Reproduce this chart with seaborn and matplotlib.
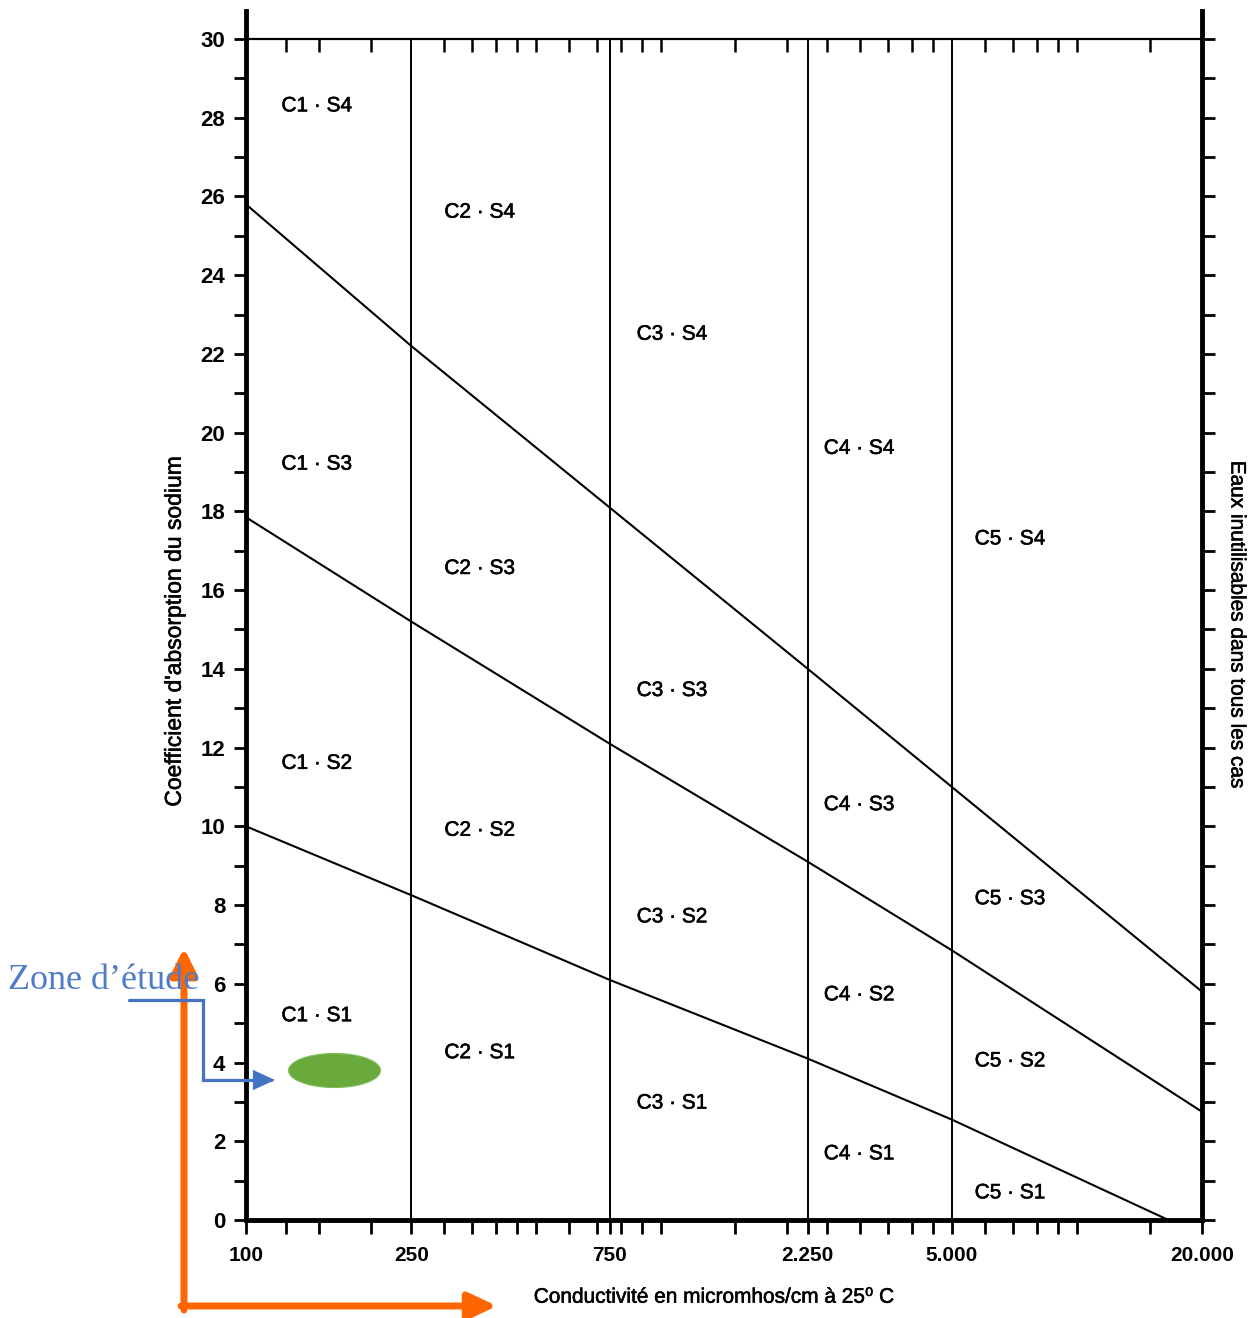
"""
diagramme de Richards (SAR / conductivite) avec la zone d'etude
"""
import numpy as np
import pandas as pd
import seaborn as sns
import matplotlib.pyplot as plt
import matplotlib.patheffects as pe
from matplotlib.path import Path
from matplotlib.patches import FancyArrowPatch
from matplotlib.ticker import NullFormatter

ec_pts = [100, 250, 750, 2250, 5000, 20000]
s3_s4 = [25.8, 22.2, 18.1, 14.0, 11.0, 5.8]
s2_s3 = [17.85, 15.2, 12.1, 9.1, 6.85, 2.75]
s1_s2_ec = [100, 250, 750, 2250, 5000, 16600]
s1_s2 = [10.0, 8.25, 6.1, 4.1, 2.55, 0.0]

# limites de classes de salinite
class_limits = [250, 750, 2250, 5000]

xtick_vals = [100, 250, 750, 2250, 5000, 20000]
xtick_labels = ['100', '250', '750', '2.250', '5.000', '20.000']
minor_ec = [125, 150, 200, 300, 350, 400, 450, 500, 600, 700, 800, 900, 1000,
            1500, 2000, 2500, 3000, 3500, 4000, 4500,
            6000, 7000, 8000, 9000, 10000, 15000]

# etiquettes des classes
col_ec = [148, 365, 1060, 2990, 6900]
col_names = ['C1', 'C2', 'C3', 'C4', 'C5']
row_names = ['S4', 'S3', 'S2', 'S1']
row_sar = {'S4': [28.3, 25.6, 22.5, 19.6, 17.3],
           'S3': [19.2, 16.55, 13.45, 10.55, 8.16],
           'S2': [11.6, 9.9, 7.7, 5.72, 4.04],
           'S1': [5.19, 4.25, 2.97, 1.68, 0.69]}

# zone d'etude
zone_ec = 163
zone_sar = 3.8

W, H = 1251, 1318

def fx(px):
    return px/W

def fy(py):
    return 1 - py/H

sns.set_theme(style='ticks')
plt.rcParams['font.family'] = ['Liberation Sans', 'DejaVu Sans']

fig = plt.figure(figsize=(W/100, H/100), dpi=100)
ymax = 30.7
ax = fig.add_axes([fx(246), fy(1220), fx(1202)-fx(246), fy(11.4)-fy(1220)])

df = pd.concat([
    pd.DataFrame({'ec': ec_pts, 'sar': s3_s4, 'limite': 'S3/S4'}),
    pd.DataFrame({'ec': ec_pts, 'sar': s2_s3, 'limite': 'S2/S3'}),
    pd.DataFrame({'ec': s1_s2_ec, 'sar': s1_s2, 'limite': 'S1/S2'}),
])
sns.lineplot(data=df, x='ec', y='sar', units='limite', estimator=None,
             sort=False, color='black', lw=1.5, ax=ax, legend=False)
ax.vlines(class_limits, 0, 30, color='black', lw=1.4)

ax.set_xscale('log')
ax.set_xlim(100, 20000)
ax.set_ylim(0, ymax)

heavy = [pe.withStroke(linewidth=0.4, foreground='black')]
for c, name in enumerate(col_names):
    for r in row_names:
        ax.text(col_ec[c], row_sar[r][c], name + ' \u00b7 ' + r, fontsize=15,
                ha='center', va='center', color='black', path_effects=heavy)

# marque de la zone d'etude (ellipse)
t = np.linspace(0, 2*np.pi, 80)
ell = Path(np.column_stack([2.7*np.cos(t), np.sin(t)]), closed=True)
ax.scatter([zone_ec], [zone_sar], marker=ell, s=4385, color='#6aaa3c',
           edgecolor='#7fbf5a', lw=0.8, zorder=5)

# axes
ax.set_xticks(xtick_vals, labels=xtick_labels)
ax.set_xticks(minor_ec, minor=True)
ax.xaxis.set_minor_formatter(NullFormatter())
ax.set_yticks(range(0, 31, 2))
ax.set_yticks(range(1, 31, 2), minor=True)
ax.tick_params(axis='x', which='both', direction='out', length=10, width=2,
               pad=9, labelsize=15, colors='black')
ax.tick_params(axis='y', which='both', direction='out', length=9, width=2,
               pad=6, labelsize=16, right=True, labelright=False, colors='black')
for lab in ax.get_xticklabels() + ax.get_yticklabels():
    lab.set_fontweight('bold')

for s in ['left', 'bottom', 'right']:
    ax.spines[s].set_linewidth(3.5)
    ax.spines[s].set_color('black')
ax.spines['top'].set_visible(False)

top = ax.secondary_xaxis(30/ymax)
top.set_xticks(minor_ec)
top.xaxis.set_minor_locator(plt.NullLocator())
top.tick_params(axis='x', direction='in', length=9, width=1.8, labeltop=False,
                labelbottom=False, colors='black')
for s in ['top', 'bottom']:
    top.spines[s].set_linewidth(1.6)
    top.spines[s].set_color('black')

ax.set_xlabel('Conductivit\u00e9 en micromhos/cm \u00e0 25\u2070 C', fontsize=15,
              color='black', path_effects=heavy)
ax.xaxis.set_label_coords(0.49, -0.056)
ax.set_ylabel("Coefficient d'absorption du sodium", fontsize=16.5, color='black',
              path_effects=heavy)
ax.yaxis.set_label_coords(-0.063, 0.487)

fig.text(fx(1237), fy(625), 'Eaux inutilisables dans tous les cas', rotation=-90,
         ha='center', va='center', fontsize=15, color='black', path_effects=heavy)

# annotations
orange = '#ff6600'
fig.add_artist(FancyArrowPatch((fx(184), fy(1310)), (fx(184), fy(948)),
               transform=fig.transFigure, arrowstyle='-|>,head_length=0.8,head_width=0.4',
               mutation_scale=20, lw=5, color=orange, shrinkA=0, shrinkB=0))
fig.add_artist(FancyArrowPatch((fx(181), fy(1306)), (fx(497), fy(1306)),
               transform=fig.transFigure, arrowstyle='-|>,head_length=0.85,head_width=0.4',
               mutation_scale=20, lw=5, color=orange, shrinkA=0, shrinkB=0))

blue = '#4472c4'
bpath = Path([(fx(129), fy(1000)), (fx(203), fy(1000)), (fx(203), fy(1080)),
              (fx(275), fy(1080))])
fig.add_artist(FancyArrowPatch(path=bpath, transform=fig.transFigure,
               arrowstyle='-|>,head_length=1.2,head_width=0.55', mutation_scale=10,
               lw=2.3, color=blue, shrinkA=0, shrinkB=0, joinstyle='miter'))

fig.text(fx(8), fy(989), 'Zone d\u2019\u00e9tude', fontsize=26, color='#4f7cc9',
         family=['Liberation Serif', 'DejaVu Serif'], va='baseline', ha='left')

fig.savefig('out.png', dpi=100)
